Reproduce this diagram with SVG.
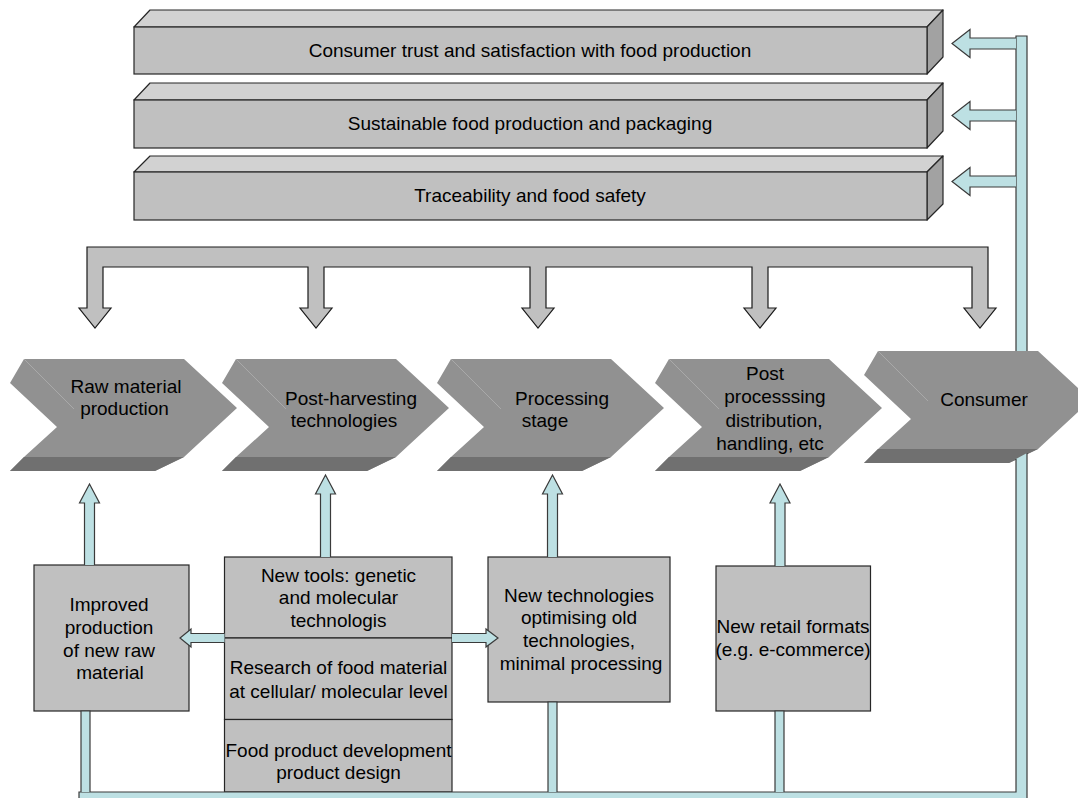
<svg xmlns="http://www.w3.org/2000/svg" xmlns:xlink="http://www.w3.org/1999/xlink" width="1078" height="798" viewBox="0 0 1078 798">
<style>
  text { font-family: "Liberation Sans", Arial, sans-serif; font-size: 19px; fill: #000; text-anchor: middle; }
  .front { fill: #c0c0c0; stroke: #262626; stroke-width: 1.2; }
  .topface { fill: #d2d2d2; stroke: #262626; stroke-width: 1.2; stroke-linejoin: round; }
  .sideface { fill: #a2a2a2; stroke: #262626; stroke-width: 1.2; stroke-linejoin: round; }
  .box { fill: #c0c0c0; stroke: #262626; stroke-width: 1.2; }
  .gray-arrow { fill: #c0c0c0; stroke: #1a1a1a; stroke-width: 1.2; stroke-linejoin: miter; }
  .blue { fill: #bde0e3; stroke: #3a3a3a; stroke-width: 1.2; stroke-linejoin: miter; }
  .chev-face { fill: #919191; }
  .chev-bottom { fill: #707070; }
  .chev-line { stroke: #a9a9a9; stroke-width: 1; fill: none; }
</style>
<defs>
  <g id="chev">
    <polygon class="chev-face" points="14,0 174,0 227,49 174,98 145,112 0,112 14,98 47,68 0,24"/>
    <polygon class="chev-bottom" points="14,98 174,98 145,112 0,112"/>
    <line class="chev-line" x1="14" y1="0" x2="64" y2="50"/>
  </g>
</defs>

<g id="goal-consumer-trust">
  <polygon class="topface" points="134,27 150,10 943,10 927,27"/>
  <polygon class="sideface" points="927,27 943,10 943,57 927,74"/>
  <rect class="front" x="134" y="27" width="793" height="47"/>
  <text x="530" y="57">Consumer trust and satisfaction with food production</text>
</g>
<g id="goal-sustainable">
  <polygon class="topface" points="134,100 150,83 943,83 927,100"/>
  <polygon class="sideface" points="927,100 943,83 943,131 927,148"/>
  <rect class="front" x="134" y="100" width="793" height="48"/>
  <text x="530" y="130">Sustainable food production and packaging</text>
</g>
<g id="goal-traceability">
  <polygon class="topface" points="134,172 150,156 943,156 927,172"/>
  <polygon class="sideface" points="927,172 943,156 943,204 927,220"/>
  <rect class="front" x="134" y="172" width="793" height="48"/>
  <text x="530" y="202">Traceability and food safety</text>
</g>

<g id="stage-raw-material">
  <use xlink:href="#chev" href="#chev" transform="translate(10,359)"/>
  <text x="126" y="393">Raw material</text>
  <text x="124.5" y="415">production</text>
</g>
<g id="stage-post-harvesting">
  <use xlink:href="#chev" href="#chev" transform="translate(222,359)"/>
  <text x="351" y="405">Post-harvesting</text>
  <text x="344" y="427">technologies</text>
</g>
<g id="stage-processing">
  <use xlink:href="#chev" href="#chev" transform="translate(437,359)"/>
  <text x="562" y="405">Processing</text>
  <text x="545" y="427">stage</text>
</g>
<g id="stage-post-processing">
  <use xlink:href="#chev" href="#chev" transform="translate(655,359)"/>
  <text x="765" y="380">Post</text>
  <text x="775" y="403">processsing</text>
  <text x="774" y="427">distribution,</text>
  <text x="770" y="450">handling, etc</text>
</g>
<g id="stage-consumer">
  <use xlink:href="#chev" href="#chev" transform="translate(864,351)"/>
  <text x="984" y="406">Consumer</text>
</g>

<g id="improved-production">
  <rect class="box" x="34" y="565" width="155" height="146"/>
  <text x="109" y="611">Improved</text>
  <text x="109" y="634">production</text>
  <text x="109" y="657">of new raw</text>
  <text x="110" y="679">material</text>
</g>
<g id="research-stack">
  <rect class="box" x="224.5" y="557" width="227.5" height="81"/>
  <text x="338.5" y="582">New tools: genetic</text>
  <text x="338.5" y="604">and molecular</text>
  <text x="338.5" y="627">technologis</text>
  <rect class="box" x="224.5" y="638" width="227.5" height="81.5"/>
  <text x="338.5" y="674">Research of food material</text>
  <text x="338.5" y="698">at cellular/ molecular level</text>
  <rect class="box" x="224.5" y="719.5" width="227.5" height="72.5"/>
  <text x="338.5" y="757">Food product development</text>
  <text x="338.5" y="779">product design</text>
</g>
<g id="new-technologies">
  <rect class="box" x="488" y="557" width="182" height="145"/>
  <text x="579" y="602">New technologies</text>
  <text x="579" y="624">optimising old</text>
  <text x="579" y="647">technologies,</text>
  <text x="581" y="670">minimal processing</text>
</g>
<g id="new-retail">
  <rect class="box" x="716" y="566" width="154.5" height="145"/>
  <text x="793" y="633">New retail formats</text>
  <text x="793" y="656">(e.g. e-commerce)</text>
</g>

<g id="connectors">
  <!-- branching gray arrow -->
  <path class="gray-arrow" d="M87,247 H988 V308 H996 L980,328 L964,308 H972 V267 H768 V308 H776 L760,328 L744,308 H752 V267 H546 V308 H554 L538,328 L522,308 H530 V267 H324 V308 H332 L316,328 L300,308 H308 V267 H103 V308 H111 L95,328 L79,308 H87 Z"/>
  <!-- feedback bus (passes behind the Consumer stage) -->
  <path class="blue" d="M1016,351 V36 H1027 V351"/>
  <path class="blue" d="M1016,459 V792 H79 V802 H1027 V453"/>
  <path class="blue" d="M1016,38 H970 V29.5 L952,43.5 L970,57.5 V49 H1016"/>
  <path class="blue" d="M1016,110 H970 V101.5 L952,115.5 L970,129.5 V121 H1016"/>
  <path class="blue" d="M1016,176 H970 V167.5 L952,181.5 L970,195.5 V187 H1016"/>
  <!-- stems from bus -->
  <path class="blue" d="M81,792 V711 H90 V792"/>
  <path class="blue" d="M548,792 V702 H557 V792"/>
  <path class="blue" d="M775,792 V711 H784 V792"/>
  <!-- up arrows -->
  <path class="blue" d="M84.5,565 V503 H79.5 L89.5,484 L99.5,503 H94.5 V565"/>
  <path class="blue" d="M320.5,557 V494 H315.5 L325.5,475 L335.5,494 H330.5 V557"/>
  <path class="blue" d="M547.5,557 V494 H542.5 L552.5,475 L562.5,494 H557.5 V557"/>
  <path class="blue" d="M775,566 V503 H770 L780,484 L790,503 H785 V566"/>
  <!-- horizontal arrows from research box -->
  <path class="blue" d="M224.5,633.5 H191 V629 L180,638 L191,647 V642.5 H224.5"/>
  <path class="blue" d="M452,633.5 H486 V629 L498,638 L486,647 V642.5 H452"/>
</g>
</svg>
